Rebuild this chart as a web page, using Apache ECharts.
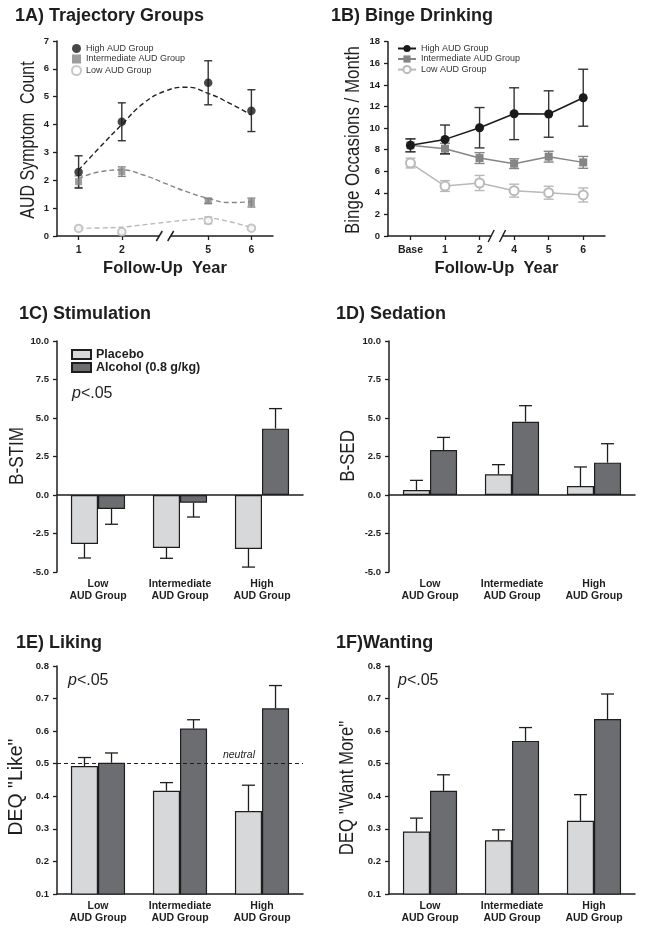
<!DOCTYPE html>
<html><head><meta charset="utf-8">
<script src="https://cdn.jsdelivr.net/npm/echarts@6/dist/echarts.min.js"></script>
<style>html,body{margin:0;padding:0;background:#fff}#c{width:645px;height:933px}</style>
</head><body><div id="c"></div>
<script>
// ---------- 1A Trajectory groups ----------
const yearsA = ['1', '2', '5', '6'];
const slotsA = [0, 1, 3, 4];            // axis slots (slot 2 = axis break)
const breakSlotA = 2;
const highA = [2.3, 4.1, 5.5, 4.5];
const highAErr = [0.58, 0.68, 0.79, 0.75];
const midA = [1.95, 2.31, 1.26, 1.2];
const midAErr = [0.21, 0.17, 0.09, 0.16];
const lowA = [0.27, 0.15, 0.56, 0.28];
const lowAErr = [0.05, 0.05, 0.12, 0.05];
// fitted (dashed) curves read along the axis slots
const fitSlots = [0, 0.5, 1, 1.5, 2, 2.5, 3, 3.5, 4];
const fitHigh = [2.37, 3.2, 4.0, 4.76, 5.2, 5.34, 5.12, 4.76, 4.34];
const fitMid = [2.05, 2.31, 2.37, 2.19, 1.89, 1.59, 1.35, 1.2, 1.23];
const fitLow = [0.28, 0.29, 0.32, 0.4, 0.49, 0.57, 0.63, 0.51, 0.3];

// ---------- 1B Binge drinking ----------
const labelsB = ['Base', '1', '2', '4', '5', '6'];
const slotsB = [0, 1, 2, 3, 4, 5];
const breakSlotB = 2.5;
const highB = [8.4, 8.95, 10.03, 11.33, 11.3, 12.81];
const highBErr = [0.6, 1.33, 1.87, 2.4, 2.15, 2.64];
const midB = [8.4, 8.09, 7.22, 6.7, 7.35, 6.82];
const midBErr = [0.6, 0.5, 0.5, 0.45, 0.5, 0.55];
const lowB = [6.76, 4.63, 4.91, 4.2, 4.01, 3.8];
const lowBErr = [0.45, 0.5, 0.7, 0.6, 0.6, 0.65];

// ---------- Bar panels ----------
const groups = ['Low\nAUD Group', 'Intermediate\nAUD Group', 'High\nAUD Group'];
const stimPlacebo = [-3.18, -3.44, -3.5];
const stimPlaceboErr = [0.91, 0.67, 1.18];
const stimAlcohol = [-0.91, -0.5, 4.31];
const stimAlcoholErr = [0.99, 0.93, 1.3];
const sedPlacebo = [0.32, 1.34, 0.58];
const sedPlaceboErr = [0.63, 0.63, 1.24];
const sedAlcohol = [2.92, 4.76, 2.1];
const sedAlcoholErr = [0.82, 1.04, 1.23];
const likePlacebo = [0.493, 0.417, 0.355];
const likePlaceboErr = [0.026, 0.025, 0.079];
const likeAlcohol = [0.503, 0.608, 0.67];
const likeAlcoholErr = [0.03, 0.027, 0.07];
const wantPlacebo = [0.292, 0.265, 0.325];
const wantPlaceboErr = [0.041, 0.032, 0.08];
const wantAlcohol = [0.417, 0.57, 0.637];
const wantAlcoholErr = [0.049, 0.041, 0.077];
const neutralLine = 0.5;

// ---------- text labels ----------
const panelTitles = ['1A) Trajectory Groups', '1B) Binge Drinking', '1C) Stimulation', '1D) Sedation', '1E) Liking', '1F)Wanting'];
const yNames = ['AUD Symptom  Count', 'Binge Occasions / Month', 'B-STIM', 'B-SED', 'DEQ "Like"', 'DEQ "Want More"'];

// ---------- styling ----------
const FONT = "'Liberation Sans', Arial, sans-serif";
const INK = '#1e1e1e';
const PLACEBO_C = '#d7d8da', ALCOHOL_C = '#6c6d70';
const BAR_FRAC = 0.33;
const C_HIGH = '#1a1a1a', C_MID = '#858585', C_LOW = '#b9b9b9';

function yAxis(gi, min, max, interval, dec) {
  return {
    type: 'value', gridIndex: gi, min, max, interval,
    axisLine: { show: true, onZero: false, lineStyle: { color: INK, width: 1.5 } },
    axisTick: { show: true, length: 4, lineStyle: { color: INK, width: 1.3 } },
    axisLabel: { fontFamily: FONT, fontWeight: 'bold', fontSize: 9.5, color: INK, margin: 8,
      formatter: v => dec == null ? String(Math.round(v)) : v.toFixed(dec) },
    splitLine: { show: false }
  };
}
const catLabel = { fontFamily: FONT, fontWeight: 'bold', fontSize: 10.5, color: INK, lineHeight: 12, margin: 6 };
function catAxisZero(gi) {
  return { type: 'category', gridIndex: gi, data: groups,
    axisLine: { onZero: true, lineStyle: { color: INK, width: 1.5 } },
    axisTick: { show: false }, axisLabel: { show: false } };
}
function catAxisLabels(gi) {
  return { type: 'category', gridIndex: gi, data: groups, position: 'bottom',
    axisLine: { show: false, onZero: false }, axisTick: { show: false }, axisLabel: catLabel };
}
function catAxisBottom(gi) {
  return { type: 'category', gridIndex: gi, data: groups,
    axisLine: { onZero: false, lineStyle: { color: INK, width: 1.5 } },
    axisTick: { show: false }, axisLabel: catLabel };
}
function slotAxis(gi, min, max, slots, labels) {
  return {
    type: 'value', gridIndex: gi, min, max,
    axisLine: { onZero: false, lineStyle: { color: INK, width: 1.5 } },
    axisTick: { customValues: slots, length: 4, lineStyle: { color: INK, width: 1.3 } },
    axisLabel: { customValues: slots, formatter: v => labels[slots.indexOf(v)],
      fontFamily: FONT, fontWeight: 'bold', fontSize: 10.5, color: INK, margin: 9 },
    splitLine: { show: false },
    name: 'Follow-Up  Year', nameLocation: 'middle', nameGap: 24,
    nameTextStyle: { fontFamily: FONT, fontWeight: 'bold', fontSize: 16.5, color: INK }
  };
}

function ptErr(slots, vals, errs, color, cap, xi, yi) {
  return {
    type: 'custom', xAxisIndex: xi, yAxisIndex: yi, z: 3, silent: true,
    dimensions: ['x', 'y', 'e'], encode: { x: 0, y: 1 },
    data: vals.map((v, i) => [slots[i], v, errs[i]]),
    renderItem(p, api) {
      const x = api.value(0), v = api.value(1), e = api.value(2);
      const t = api.coord([x, v + e]), b = api.coord([x, v - e]);
      const st = { stroke: color, lineWidth: 1.4 };
      return { type: 'group', children: [
        { type: 'line', shape: { x1: t[0], y1: t[1], x2: b[0], y2: b[1] }, style: st },
        { type: 'line', shape: { x1: t[0] - cap, y1: t[1], x2: t[0] + cap, y2: t[1] }, style: st },
        { type: 'line', shape: { x1: b[0] - cap, y1: b[1], x2: b[0] + cap, y2: b[1] }, style: st }
      ] };
    }
  };
}
function barErr(vals, errs, side, xi, yi) {
  return {
    type: 'custom', xAxisIndex: xi, yAxisIndex: yi, z: 5, silent: true,
    dimensions: ['x', 'y', 'e'], encode: { x: 0, y: 1 },
    data: vals.map((v, i) => [i, v, errs[i]]),
    renderItem(p, api) {
      const i = api.value(0), v = api.value(1), e = api.value(2);
      const band = api.size([1, 0])[0];
      const cx = api.coord([i, v])[0] + side * band * BAR_FRAC / 2;
      const y0 = api.coord([i, v])[1];
      const y1 = api.coord([i, v >= 0 ? v + e : v - e])[1];
      const st = { stroke: INK, lineWidth: 1.3 };
      return { type: 'group', children: [
        { type: 'line', shape: { x1: cx, y1: y0, x2: cx, y2: y1 }, style: st },
        { type: 'line', shape: { x1: cx - 6.5, y1: y1, x2: cx + 6.5, y2: y1 }, style: st }
      ] };
    }
  };
}
function breakMark(xi, yi, slot, dy) {
  return {
    type: 'custom', xAxisIndex: xi, yAxisIndex: yi, z: 10, silent: true, clip: false,
    data: [[slot, 0]],
    renderItem(p, api) {
      const c = api.coord([api.value(0), api.value(1)]);
      const h = 5.7, dx = 3;
      const st = { stroke: INK, lineWidth: 1.5 };
      return { type: 'group', children: [
        { type: 'rect', shape: { x: c[0] - h, y: c[1] - 2, width: 2 * h, height: 4 }, style: { fill: '#fff' } },
        { type: 'line', shape: { x1: c[0] - h - dx, y1: c[1] + dy, x2: c[0] - h + dx, y2: c[1] - dy }, style: st },
        { type: 'line', shape: { x1: c[0] + h - dx, y1: c[1] + dy, x2: c[0] + h + dx, y2: c[1] - dy }, style: st }
      ] };
    }
  };
}
function fitCurve(vals, color, xi, yi) {
  return { type: 'line', xAxisIndex: xi, yAxisIndex: yi, smooth: 0.5, showSymbol: false, silent: true, z: 2,
    data: fitSlots.map((s, i) => [s, vals[i]]),
    lineStyle: { color, width: 1.4, type: [5, 3] } };
}
function scatterA(name, vals, symbol, size, color) {
  return { type: 'scatter', name, xAxisIndex: 0, yAxisIndex: 0, z: 4, symbol, symbolSize: size,
    data: vals.map((v, i) => [slotsA[i], v]),
    itemStyle: symbol === 'emptyCircle' ? { color, borderWidth: 1.5 } : { color } };
}
function lineB(name, vals, symbol, size, color) {
  return { type: 'line', name, xAxisIndex: 1, yAxisIndex: 1, z: 4, symbol, symbolSize: size, showAllSymbol: true,
    data: vals.map((v, i) => [slotsB[i], v]),
    lineStyle: { color, width: 1.5 },
    itemStyle: symbol === 'emptyCircle' ? { color, borderWidth: 1.5 } : { color } };
}
function barPanel(xi, yi, pl, plE, al, alE, markLine) {
  const base = { type: 'bar', xAxisIndex: xi, yAxisIndex: yi, barWidth: (BAR_FRAC * 100) + '%', barGap: '0%' };
  const alc = Object.assign({}, base, { name: 'Alcohol (0.8 g/kg)', data: al,
    itemStyle: { color: ALCOHOL_C, borderColor: INK, borderWidth: 1.2 } });
  if (markLine) alc.markLine = markLine;
  return [
    Object.assign({}, base, { name: 'Placebo', data: pl, itemStyle: { color: PLACEBO_C, borderColor: INK, borderWidth: 1.2 } }),
    alc,
    barErr(pl, plE, -1, xi, yi),
    barErr(al, alE, 1, xi, yi)
  ];
}

const titleStyle = { fontFamily: FONT, fontWeight: 'bold', fontSize: 18, color: INK };
const titlePos = [[15, 7], [331, 7], [19, 305], [336, 305], [16, 634], [336, 634]];
const pText = (x, y) => ({ type: 'text', x, y, silent: true,
  style: { text: '{i|p}<.05', fontFamily: FONT, fontSize: 16, fill: INK, verticalAlign: 'middle',
    rich: { i: { fontStyle: 'italic', fontFamily: FONT, fontSize: 16, fill: INK } } } });
// rotated (condensed) y-axis names: [centerX, centerY, horizontal squeeze]
const yNamePos = [[28, 140, 0.80], [353.3, 140, 0.845], [17.5, 456, 0.855], [348.3, 456, 0.846], [16.7, 787, 0.97], [347.5, 788, 0.84]];
const yNameText = (name, i) => ({ type: 'text', x: yNamePos[i][0], y: yNamePos[i][1], rotation: Math.PI / 2,
  scaleX: yNamePos[i][2], silent: true,
  style: { text: name, fontFamily: FONT, fontSize: 20, fill: INK, align: 'center', verticalAlign: 'middle' } });

const option = {
  animation: false,
  backgroundColor: '#fff',
  title: panelTitles.map((t, i) => ({ text: t, left: titlePos[i][0], top: titlePos[i][1], padding: 0, textStyle: titleStyle })),
  legend: [
    { left: 71, top: 44, orient: 'vertical', padding: 0, itemWidth: 9, itemHeight: 9, itemGap: 1.5, selectedMode: false,
      data: ['A|High AUD Group', 'A|Intermediate AUD Group', 'A|Low AUD Group'],
      formatter: n => n.split('|')[1], textStyle: { fontFamily: FONT, fontSize: 9, color: '#333' } },
    { left: 397, top: 44, orient: 'vertical', padding: 0, itemWidth: 18, itemHeight: 9, itemGap: 1.5, selectedMode: false,
      data: ['B|High AUD Group', 'B|Intermediate AUD Group', 'B|Low AUD Group'],
      formatter: n => n.split('|')[1], textStyle: { fontFamily: FONT, fontSize: 9, color: '#333' } },
    { left: 71, top: 348, orient: 'vertical', padding: 0, itemWidth: 19, itemHeight: 9, itemGap: 0, selectedMode: false,
      data: ['Placebo', 'Alcohol (0.8 g/kg)'], icon: 'rect',
      textStyle: { fontFamily: FONT, fontWeight: 'bold', fontSize: 12.5, color: INK } }
  ],
  grid: [
    { left: 57, top: 41, width: 216, height: 195 },
    { left: 388, top: 41.7, width: 217, height: 194.3 },
    { left: 57, top: 341, width: 246, height: 231 },
    { left: 389, top: 341, width: 246, height: 231 },
    { left: 57, top: 666, width: 246, height: 228 },
    { left: 389, top: 666, width: 246, height: 228 }
  ],
  xAxis: [
    slotAxis(0, -0.5, 4.5, slotsA, yearsA),
    slotAxis(1, -0.65, 5.63, slotsB, labelsB),
    catAxisZero(2), catAxisLabels(2),
    catAxisZero(3), catAxisLabels(3),
    catAxisBottom(4), catAxisBottom(5)
  ],
  yAxis: [
    yAxis(0, 0, 7, 1, null),
    yAxis(1, 0, 18, 2, null),
    yAxis(2, -5, 10, 2.5, 1),
    yAxis(3, -5, 10, 2.5, 1),
    yAxis(4, 0.1, 0.8, 0.1, 1),
    yAxis(5, 0.1, 0.8, 0.1, 1)
  ],
  graphic: [pText(72, 394), pText(68, 681), pText(398, 681), ...yNames.map(yNameText)],
  series: [
    // 1A
    fitCurve(fitLow, C_LOW, 0, 0), fitCurve(fitMid, C_MID, 0, 0), fitCurve(fitHigh, '#222', 0, 0),
    ptErr(slotsA, lowA, lowAErr, C_LOW, 4, 0, 0),
    ptErr(slotsA, midA, midAErr, C_MID, 4, 0, 0),
    ptErr(slotsA, highA, highAErr, '#333', 4, 0, 0),
    scatterA('A|Low AUD Group', lowA, 'emptyCircle', 7.5, C_LOW),
    scatterA('A|Intermediate AUD Group', midA, 'rect', 7, C_MID),
    scatterA('A|High AUD Group', highA, 'circle', 8.5, C_HIGH),
    breakMark(0, 0, breakSlotA, 5),
    // 1B
    ptErr(slotsB, lowB, lowBErr, C_LOW, 5, 1, 1),
    ptErr(slotsB, midB, midBErr, C_MID, 5, 1, 1),
    ptErr(slotsB, highB, highBErr, '#333', 5, 1, 1),
    lineB('B|Low AUD Group', lowB, 'emptyCircle', 9, C_LOW),
    lineB('B|Intermediate AUD Group', midB, 'rect', 8, C_MID),
    lineB('B|High AUD Group', highB, 'circle', 9, C_HIGH),
    breakMark(1, 1, breakSlotB, 6),
    // 1C-1F
    ...barPanel(2, 2, stimPlacebo, stimPlaceboErr, stimAlcohol, stimAlcoholErr),
    ...barPanel(4, 3, sedPlacebo, sedPlaceboErr, sedAlcohol, sedAlcoholErr),
    ...barPanel(6, 4, likePlacebo, likePlaceboErr, likeAlcohol, likeAlcoholErr, {
      silent: true, symbol: 'none', data: [{ yAxis: neutralLine }],
      lineStyle: { type: [4, 3], color: INK, width: 1 },
      label: { show: true, formatter: 'neutral', position: 'insideEndTop', distance: 3,
        padding: [0, 45, 0, 0], fontFamily: FONT, fontStyle: 'italic', fontSize: 10.5, color: INK }
    }),
    ...barPanel(7, 5, wantPlacebo, wantPlaceboErr, wantAlcohol, wantAlcoholErr)
  ]
};
const chart = echarts.init(document.getElementById('c'), null, { renderer: 'canvas' });
chart.setOption(option);
</script></body></html>
